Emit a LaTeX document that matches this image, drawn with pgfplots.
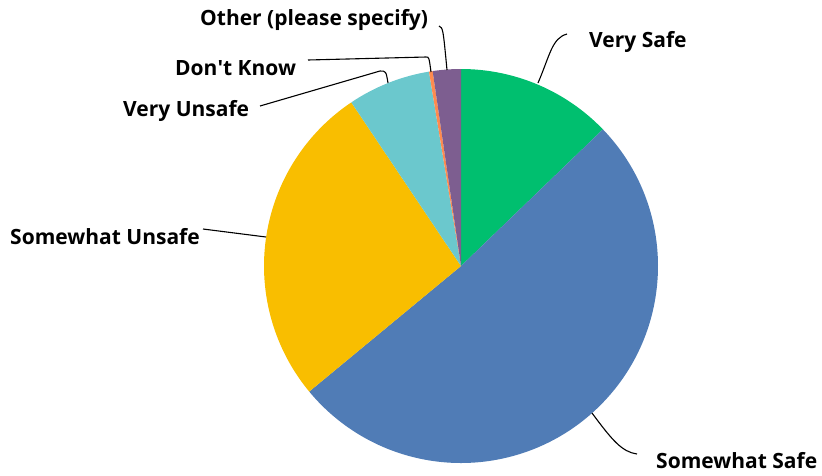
\documentclass[border=0pt]{standalone}
\usepackage{pgfplots}
\pgfplotsset{compat=1.18}
\usepackage{fontspec}
\setmainfont{Open Sans}

\definecolor{cVS}{HTML}{00BF6F}
\definecolor{cSS}{HTML}{507CB6}
\definecolor{cSU}{HTML}{F9BE00}
\definecolor{cVU}{HTML}{6BC8CD}
\definecolor{cDK}{HTML}{FF8B4F}
\definecolor{cOT}{HTML}{7D5E90}

% share of answers in percent
\def\vVS{12.8}
\def\vSS{51.2}
\def\vSU{26.6}
\def\vVU{6.8}
\def\vDK{0.3}
\def\vOT{2.3}

% centre and radius in pixel units
\def\cx{461}
\def\cy{266}
\def\rr{197}

\newcommand\slice[3]{%
  \fill[#3] (axis cs:\cx,\cy) -- (axis cs:{\cx+\rr*cos(#1)},{\cy-\rr*sin(#1)})
    arc[start angle=#1, end angle=#2, radius=\rr pt] -- cycle;}

\tikzset{lbl/.style={font=\fontsize{21}{25}\selectfont\bfseries, text=black, anchor=west, inner sep=0pt}}

\begin{document}
\begin{tikzpicture}
\pgfmathsetmacro\aA{90}
\pgfmathsetmacro\aB{\aA-3.6*\vVS}
\pgfmathsetmacro\aC{\aB-3.6*\vSS}
\pgfmathsetmacro\aD{\aC-3.6*\vSU}
\pgfmathsetmacro\aE{\aD-3.6*\vVU}
\pgfmathsetmacro\aF{\aE-3.6*\vDK}
\pgfmathsetmacro\aG{\aF-3.6*\vOT}
\begin{axis}[
    scale only axis,
    width=822pt, height=475pt,
    xmin=0, xmax=822, ymin=0, ymax=475,
    y dir=reverse,
    hide axis, clip=false,
  ]
  % keep the whole frame in the bounding box
  \path (axis cs:0,0) rectangle (axis cs:822,475);

  \slice{\aA}{\aB}{cVS}
  \slice{\aB}{\aC}{cSS}
  \slice{\aC}{\aD}{cSU}
  \slice{\aD}{\aE}{cVU}
  \slice{\aE}{\aF}{cDK}
  \slice{\aF}{\aG}{cOT}

  % leader lines
  \draw[line width=1.1pt] (axis cs:538,83) .. controls (axis cs:550,55) and (axis cs:552,38) .. (axis cs:567,34);
  \draw[line width=1.1pt] (axis cs:592,413) .. controls (axis cs:612,440) and (axis cs:622,452) .. (axis cs:637,454);
  \draw[line width=1.1pt] (axis cs:266,237) -- (axis cs:203,229);
  \draw[line width=1.1pt] (axis cs:260,106) -- (axis cs:380,71) .. controls (axis cs:386,71) .. (axis cs:388,83);
  \draw[line width=1.1pt] (axis cs:308,60) -- (axis cs:426,57) .. controls (axis cs:429,57) .. (axis cs:431,72);
  \draw[line width=1.1pt] (axis cs:439,26) .. controls (axis cs:443,28) .. (axis cs:447,70);

  % labels
  \node[lbl] at (axis cs:589,42) {Very Safe};
  \node[lbl] at (axis cs:656,461) {Somewhat Safe};
  \node[lbl] at (axis cs:10,237) {Somewhat Unsafe};
  \node[lbl] at (axis cs:123,111) {Very Unsafe};
  \node[lbl] at (axis cs:175,68) {Don\textquotesingle t Know};
  \node[lbl] at (axis cs:200,20) {Other (please specify)};
\end{axis}
\end{tikzpicture}
\end{document}
